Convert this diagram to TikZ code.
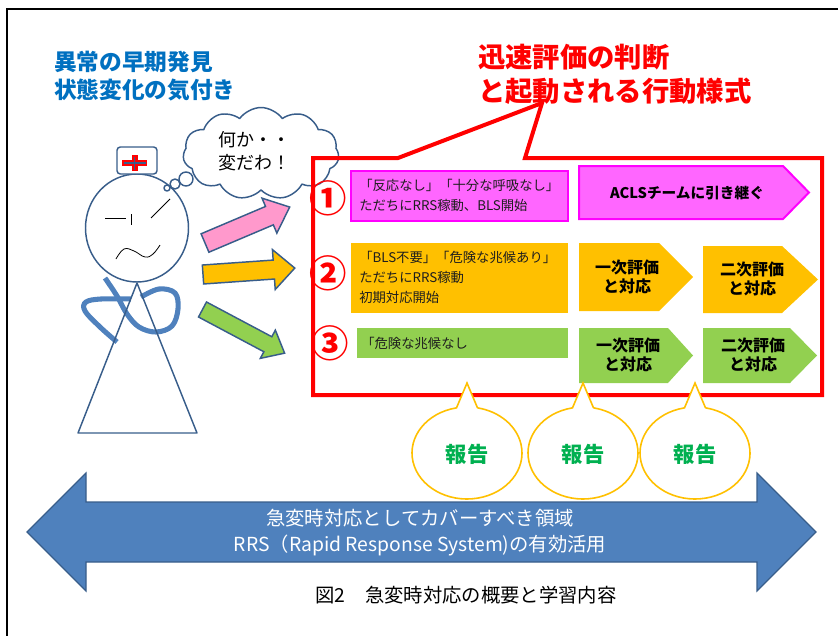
\documentclass[tikz,border=0pt]{standalone}
\usepackage{fontspec}
\setmainfont{Noto Sans CJK JP}
\usetikzlibrary{shapes.symbols,calc}

\definecolor{inkblue}{RGB}{56,93,138}
\definecolor{tubeblue}{RGB}{79,129,189}
\definecolor{headblue}{RGB}{0,112,192}
\definecolor{pinkarrow}{RGB}{255,153,204}
\definecolor{magfill}{RGB}{255,102,255}
\definecolor{magline}{RGB}{255,0,255}
\definecolor{amber}{RGB}{255,192,0}
\definecolor{leaf}{RGB}{146,208,80}
\definecolor{reportgreen}{RGB}{0,176,80}
\definecolor{txt}{RGB}{30,30,30}

\begin{document}
\begin{tikzpicture}[x=0.75pt,y=-0.75pt,
  pen/.style={draw=inkblue, line width=1.1pt, line join=round},
  tube/.style={draw=tubeblue, line width=3.8pt, line cap=butt},
  fineline/.style={draw=black, line width=0.6pt},
  flowarrow/.style={draw=inkblue, line width=1.1pt, line join=miter},
  redframe/.style={draw=red, line width=3pt, line join=miter},
  bubble/.style={draw=amber, line width=1.2pt, fill=white},
  rowtext/.style={anchor=west, inner sep=0pt, align=left, text=txt, font=\fontsize{10}{15}\selectfont},
  steptext/.style={inner sep=0pt, align=center, text=black, font=\bfseries\fontsize{12}{14.5}\selectfont},
  num/.style={text=red, inner sep=0pt, font=\bfseries\fontsize{28}{28}\selectfont},
  report/.style={text=reportgreen, inner sep=0pt, font=\bfseries\fontsize{16}{16}\selectfont},
  heading/.style={anchor=west, inner sep=0pt, font=\bfseries\fontsize{17}{20}\selectfont, text=headblue},
  redheading/.style={anchor=west, inner sep=0pt, font=\bfseries\fontsize{20.5}{24}\selectfont, text=red},
]
\useasboundingbox (0,0) rectangle (838,635);

% outer frame (left and top edges)
\draw[black, line width=1.5pt] (7,640) -- (7,9.5) -- (845,9.5);

% ---------- nurse ----------
% head
\draw[pen, fill=white] (137,228) ellipse [x radius=51.5, y radius=54];
% cap with cross
\draw[pen, fill=white, rounded corners=2.5pt] (117,147) rectangle (157,174);
\draw[red, line width=4.5pt] (122,163) -- (147,163) (134.5,155) -- (134.5,171);
\draw[inkblue, line width=1.2pt] (123.5,163) -- (145.5,163) (134.5,156.5) -- (134.5,169.5);
% face
\draw[fineline] (105,218) -- (126,218);
\draw[fineline] (131,214) -- (131,225);
\draw[fineline] (151,218) -- (170,199);
\draw[fineline] plot[smooth, tension=0.7] coordinates {(116,259) (124,249) (134,251) (145,257) (153,254) (160,245)};
% stethoscope
\draw[tube] plot[smooth, tension=0.6] coordinates {(105,278) (117,296) (127,314) (139,327) (156,332) (172,326) (178,309) (175,293) (159,289) (141,297)};
\draw[tube] plot[smooth, tension=0.6] coordinates {(131,299) (101,299) (86,302) (85,311) (100,327) (117,342)};
% body
\draw[pen] (137,283) -- (78,433) -- (197,433) -- cycle;

% ---------- thought ----------
\draw[pen, fill=white] (167,188) circle [radius=3];
\draw[pen, fill=white] (175,184) circle [radius=5];
\draw[pen, fill=white] (186,179) circle [radius=7];
\node[cloud, cloud puffs=11, cloud puff arc=110, cloud ignores aspect,
      minimum width=117pt, minimum height=69pt, pen, fill=white] (cloud) at (261,153.5) {};
\node[inner sep=0pt, align=center, text=black, font=\fontsize{13.5}{17}\selectfont] (thought) at (254,151.5) {何か・・\\変だわ！};

% ---------- three arrows ----------
\begin{scope}[shift={(205,243)}, rotate=23]
  \draw[flowarrow, fill=pinkarrow] (0,-10) -- (70,-10) -- (70,-19) -- (92,0) -- (70,19) -- (70,10) -- (0,10) -- cycle;
\end{scope}
\begin{scope}[shift={(203,274.5)}, rotate=4]
  \draw[flowarrow, fill=amber] (0,-9.5) -- (71,-9.5) -- (71,-20) -- (92,0) -- (71,20) -- (71,9.5) -- (0,9.5) -- cycle;
\end{scope}
\begin{scope}[shift={(202.5,309.5)}, rotate=-28]
  \draw[flowarrow, fill=leaf] (0,-8.5) -- (74,-8.5) -- (74,-16) -- (93,0) -- (74,16) -- (74,8.5) -- (0,8.5) -- cycle;
\end{scope}

% ---------- callout frame ----------
\draw[redframe] (313,158) -- (398,158) -- (542,103) -- (525,158) -- (822,158) -- (822,395) -- (313,395) -- cycle;

% row 1
\draw[magline, line width=1.5pt, fill=magfill] (351,171) rectangle (568,221);
\node[rowtext] (r1) at (359,195) {「反応なし」「十分な呼吸なし」\\ただちにRRS稼動、BLS開始};
\draw[magline, line width=1.5pt, fill=magfill] (579,166) -- (783,166) -- (809,192.5) -- (783,219) -- (579,219) -- cycle;
\node[steptext, font=\bfseries\fontsize{11}{13}\selectfont] (acls) at (687,193) {ACLSチームに引き継ぐ};

% row 2
\fill[amber] (351,243) rectangle (568,313);
\node[rowtext] (r2) at (359,277.5) {「BLS不要」「危険な兆候あり」\\ただちにRRS稼動\\初期対応開始};
\fill[amber] (579,243) -- (659,243) -- (693,277) -- (659,311) -- (579,311) -- cycle;
\node[steptext] (o1) at (627,277) {一次評価\\と対応};
\fill[amber] (703,246) -- (782,246) -- (818,279.5) -- (782,313) -- (703,313) -- cycle;
\node[steptext] (o2) at (752,279) {二次評価\\と対応};

% row 3
\fill[leaf] (357,328) rectangle (568,358);
\node[rowtext] (r3) at (361,343) {「危険な兆候なし};
\fill[leaf] (579,328) -- (668,328) -- (693,355.5) -- (668,383) -- (579,383) -- cycle;
\node[steptext] (g1) at (628,355) {一次評価\\と対応};
\fill[leaf] (703,328) -- (790,328) -- (817,355.5) -- (790,383) -- (703,383) -- cycle;
\node[steptext] (g2) at (753,355) {二次評価\\と対応};

% row numbers
\node[num] (n1) at (328,198) {①};
\node[num] (n2) at (328,273) {②};
\node[num] (n3) at (330,343) {③};

% ---------- report bubbles ----------
\foreach \cx/\nm in {467/a, 583/b, 695/c}{
  \draw[bubble] ($(\cx,453)+(-79:55 and 46)$) -- (\cx,383) -- ($(\cx,453)+(-101:55 and 46)$)
     arc[start angle=-101, end angle=-439, x radius=55, y radius=46];
  \node[report] (rep\nm) at (\cx,454) {報告};
}

% ---------- span arrow ----------
\draw[draw=inkblue, line width=0.9pt, fill=tubeblue]
  (27,532) -- (86,473) -- (86,502) -- (757,502) -- (757,473) -- (816,532)
  -- (757,591) -- (757,562) -- (86,562) -- (86,591) -- cycle;
\node[inner sep=0pt, align=center, text=white, font=\fontsize{14.5}{19.5}\selectfont] (span) at (420,533)
  {急変時対応としてカバーすべき領域\\RRS（Rapid Response System)の有効活用};

% caption
\node[inner sep=0pt, text=black, font=\fontsize{14.5}{17}\selectfont] (caption) at (466,595) {図2　急変時対応の概要と学習内容};

% headings
\node[heading] (h1) at (54,62) {異常の早期発見};
\node[heading] (h2) at (54,90) {状態変化の気付き};
\node[redheading] (h3) at (478,57) {迅速評価の判断};
\node[redheading] (h4) at (478,91) {と起動される行動様式};
\end{tikzpicture}
\end{document}
